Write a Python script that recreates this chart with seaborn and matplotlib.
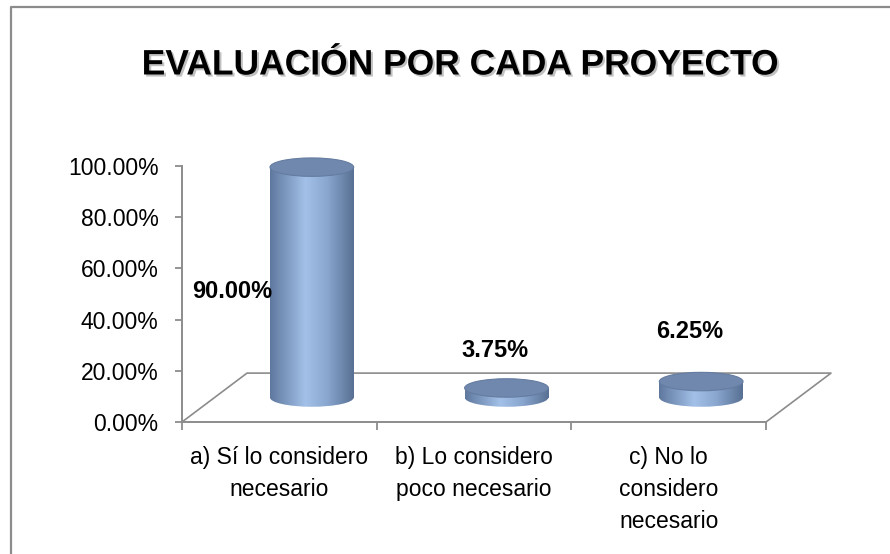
import numpy as np
import matplotlib
matplotlib.use("Agg")
import matplotlib.pyplot as plt
import seaborn as sns
from matplotlib.patches import Ellipse
from matplotlib.lines import Line2D
from matplotlib.colors import LinearSegmentedColormap
from matplotlib import patheffects
from matplotlib.ticker import FuncFormatter

# Data
categories = ["a) Sí lo considero\nnecesario",
              "b) Lo considero\npoco necesario",
              "c) No lo\nconsidero\nnecesario"]
values = [0.90, 0.0375, 0.0625]
value_labels = ["90.00%", "3.75%", "6.25%"]
y_ticks = [0.0, 0.2, 0.4, 0.6, 0.8, 1.0]
title = "EVALUACIÓN POR CADA PROYECTO"

# label placement (data coords), as excel put them
label_pos = [(-0.24, 0.51), (1.11, 0.28), (2.11, 0.355)]

# fake 3d depth of the floor, in data units
depth_x = 0.334
depth_y = 0.191
cap_h = 0.072

sns.set_theme(style="white")
plt.rcParams["font.family"] = ["Liberation Sans", "DejaVu Sans"]

cyl_cmap = LinearSegmentedColormap.from_list(
    "cyl", [(0.0, "#5F789E"), (0.42, "#A3C0E8"), (0.68, "#8AA7D0"), (1.0, "#587093")])
grad = np.linspace(0, 1, 256).reshape(1, -1)

fig = plt.figure(figsize=(8.9, 5.54), dpi=100)
ax = fig.add_axes([182 / 890, 132 / 554, 584 / 890, 256 / 554])

sns.barplot(x=categories, y=values, ax=ax, width=0.43, color="#8EABD3")

# floor of the 3d box
ax.plot([-0.5, -0.5 + depth_x, 2.5 + depth_x, 2.5], [0, depth_y, depth_y, 0],
        color="#8C8C8C", lw=1.2, clip_on=False, zorder=1)

# turn each bar into a cylinder standing in the middle of the floor
for p, v in zip(ax.patches, values):
    x0 = p.get_x() + depth_x / 2
    w = p.get_width()
    base = depth_y / 2
    p.set_x(x0)
    p.set_y(base)
    p.set_facecolor("none")
    p.set_edgecolor("none")
    p.set_clip_on(False)
    cx = x0 + w / 2

    body = ax.imshow(grad, cmap=cyl_cmap, aspect="auto", zorder=2,
                     extent=[x0, x0 + w, base, base + v], interpolation="bicubic")
    body.set_clip_path(p)

    bottom = Ellipse((cx, base), w, cap_h, facecolor="none", edgecolor="none")
    ax.add_patch(bottom)
    bot_img = ax.imshow(grad, cmap=cyl_cmap, aspect="auto", zorder=2,
                        extent=[x0, x0 + w, base - cap_h, base + cap_h], interpolation="bicubic")
    bot_img.set_clip_path(bottom)

    ax.add_patch(Ellipse((cx, base + v), w, cap_h, facecolor="#7088AD",
                         edgecolor="#647CA0", lw=0.8, zorder=3, clip_on=False))

for (lx, ly), txt in zip(label_pos, value_labels):
    ax.text(lx, ly, txt, ha="center", va="center", fontsize=17,
            fontweight="bold", color="black", zorder=4)

ax.set_xlim(-0.5, 2.5)
ax.set_ylim(0, 1)

# axes styling
for side in ["top", "right"]:
    ax.spines[side].set_visible(False)
for side in ["left", "bottom"]:
    ax.spines[side].set_color("#8C8C8C")
    ax.spines[side].set_linewidth(1.4)

ax.set_yticks(y_ticks)
ax.yaxis.set_major_formatter(FuncFormatter(lambda v, pos: f"{v * 100:.2f}%"))
ax.tick_params(axis="y", direction="out", length=5, width=1.3, color="#8C8C8C",
               pad=12, labelsize=16.5, labelcolor="black", left=True)

ax.set_xticks([0, 1, 2])
ax.set_xticklabels(categories, fontsize=16.5, linespacing=1.52)
ax.set_xticks([-0.5, 0.5, 1.5, 2.5], minor=True)
ax.tick_params(axis="x", which="major", length=0, pad=17, labelcolor="black")
ax.tick_params(axis="x", which="minor", direction="out", length=6, width=1.3,
               color="#8C8C8C", bottom=True)
ax.set_xlabel("")
ax.set_ylabel("")
ax.grid(False)

fig.text(460 / 890, 1 - 65 / 554, title, ha="center", va="center",
         fontsize=25.5, fontweight="bold", color="black",
         path_effects=[patheffects.withSimplePatchShadow(offset=(1.5, -1.5),
                                                         shadow_rgbFace="#999999", alpha=0.6)])

# chart border (left and top visible only)
fig.add_artist(Line2D([11 / 890, 11 / 890, 1], [0, 1 - 6.5 / 554, 1 - 6.5 / 554],
                      transform=fig.transFigure, color="#8C8C8C", lw=1.6))

fig.savefig("out.png", dpi=100)
